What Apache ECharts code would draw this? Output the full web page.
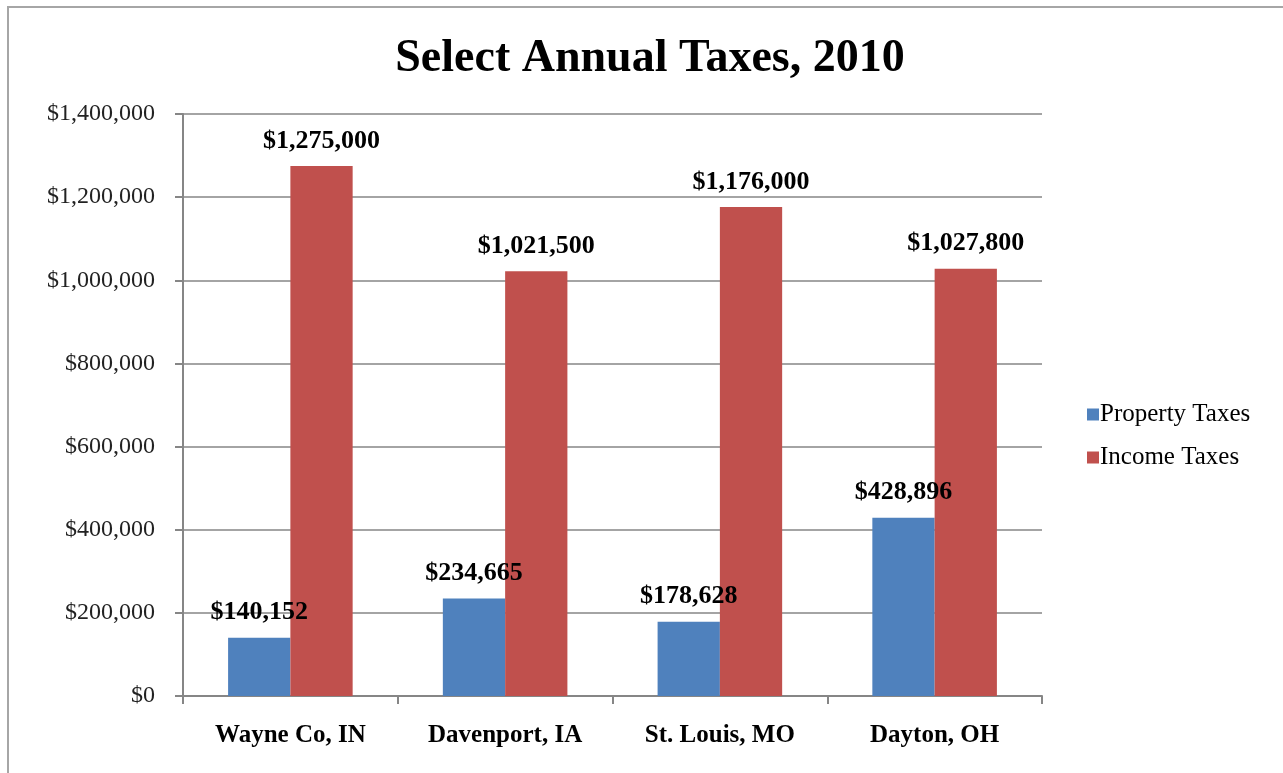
<!DOCTYPE html>
<html>
<head>
<meta charset="utf-8">
<script src="https://cdn.jsdelivr.net/npm/echarts@6/dist/echarts.min.js"></script>
<style>
	html, body { margin: 0; padding: 0; background: #fff; }
	#chart { width: 1283px; height: 773px; }
</style>
</head>
<body>
<div id="chart"></div>
<script>

var cities = ['Wayne Co, IN', 'Davenport, IA', 'St. Louis, MO', 'Dayton, OH'];
var propertyTaxes = [140152, 234665, 178628, 428896];
var incomeTaxes = [1275000, 1021500, 1176000, 1027800];
var seriesNames = ['Property Taxes', 'Income Taxes'];

var serif = '"Liberation Serif", "DejaVu Serif", serif';

function money(v) {
	return '$' + Math.round(v).toString().replace(/\B(?=(\d{3})+(?!\d))/g, ',');
}

var myChart = echarts.init(document.getElementById('chart'));

var barLabel = {
	show: true,
	position: 'top',
	distance: 12,
	color: '#000',
	fontFamily: serif,
	fontWeight: 'bold',
	fontSize: 26,
	formatter: function (p) { return money(p.value); }
};

var option = {
	backgroundColor: '#fff',
	animation: false,
	title: {
		text: 'Select Annual Taxes, 2010',
		left: 645,
		textAlign: 'center',
		top: 31,
		textStyle: {
			fontFamily: serif,
			fontWeight: 'bold',
			fontSize: 46,
			color: '#000'
		}
	},
	graphic: [
		{
			type: 'rect',
			shape: { x: 8, y: 7, width: 1300, height: 800 },
			style: { fill: 'none', stroke: '#a6a6a6', lineWidth: 2 },
			silent: true
		}
	],
	legend: {
		orient: 'vertical',
		left: 1082,
		top: 397,
		itemWidth: 12,
		itemHeight: 12,
		itemGap: 18,
		icon: 'rect',
		textStyle: {
			fontFamily: serif,
			fontSize: 25,
			color: '#000',
			padding: [0, 0, 0, -4]
		},
		data: seriesNames
	},
	grid: {
		left: 183,
		right: 241,
		top: 114,
		bottom: 77
	},
	xAxis: {
		type: 'category',
		data: cities,
		axisLine: { lineStyle: { color: '#868686', width: 2 } },
		axisTick: { show: true, length: 8, lineStyle: { color: '#868686', width: 2 } },
		axisLabel: {
			margin: 27,
			color: '#000',
			fontFamily: serif,
			fontWeight: 'bold',
			fontSize: 25
		}
	},
	yAxis: {
		type: 'value',
		min: 0,
		max: 1400000,
		interval: 200000,
		axisLine: { show: true, lineStyle: { color: '#868686', width: 2 } },
		axisTick: { show: true, length: 8, lineStyle: { color: '#868686', width: 2 } },
		splitLine: { lineStyle: { color: '#868686', width: 1.5 } },
		axisLabel: {
			margin: 28,
			color: '#222',
			fontFamily: serif,
			fontSize: 24,
			formatter: money
		}
	},
	series: [
		{
			name: seriesNames[0],
			type: 'bar',
			data: propertyTaxes,
			barGap: '0%',
			barCategoryGap: '42%',
			itemStyle: { color: '#4F81BD' },
			label: barLabel
		},
		{
			name: seriesNames[1],
			type: 'bar',
			data: incomeTaxes,
			barGap: '0%',
			barCategoryGap: '42%',
			itemStyle: { color: '#C0504D' },
			label: barLabel
		}
	]
};

myChart.setOption(option);

</script>
</body>
</html>
